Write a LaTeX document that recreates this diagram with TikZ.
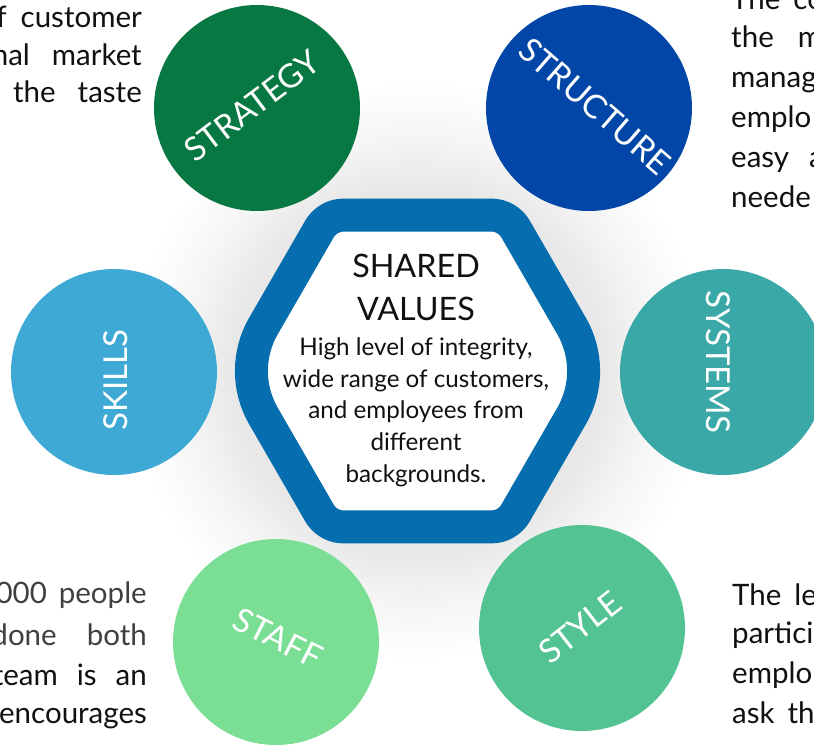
\documentclass[tikz,border=0pt]{standalone}
\usepackage{fontspec}
\setmainfont{Lato}
\usetikzlibrary{calc}
\definecolor{cStrategy}{RGB}{7,120,66}
\definecolor{cStructure}{RGB}{2,71,168}
\definecolor{cSkills}{RGB}{62,169,213}
\definecolor{cSystems}{RGB}{59,168,168}
\definecolor{cStaff}{RGB}{122,222,148}
\definecolor{cStyle}{RGB}{84,195,147}
\definecolor{ringblue}{RGB}{6,109,174}
\definecolor{textdark}{RGB}{17,17,17}
\definecolor{textgray}{RGB}{64,64,64}
\pgfdeclareradialshading{hexglow}{\pgfpoint{0bp}{0bp}}{color(0bp)=(black!10); color(16bp)=(black!9); color(20bp)=(black!4); color(25bp)=(white); color(50bp)=(white)}
\begin{document}
\begin{tikzpicture}[x=1pt,y=-1pt,
  disc/.style={circle, minimum size=206pt, inner sep=0pt, draw=none},
  clabel/.style={text=white, font=\fontsize{33}{38}\selectfont, inner sep=0pt},
  side/.style={font=\fontsize{29.5}{34}\selectfont, inner sep=0pt, text=textdark},
  sidegray/.style={side, text=textgray},
  titletext/.style={font=\fontsize{32.3}{38}\selectfont, inner sep=0pt, text=textdark},
  bodytext/.style={font=\fontsize{24.2}{28}\selectfont, inner sep=0pt, text=textdark}]
\clip (0,0) rectangle (814,745);
\fill[white] (0,0) rectangle (814,745);
\coordinate (C) at (417.5,371);
\shade[shading=hexglow] (C) circle (290);

% circles
\node[disc, fill=cStrategy]  (strategy)  at (257,108) {};
\node[disc, fill=cStructure] (structure) at (589,108) {};
\node[disc, fill=cSkills]    (skills)    at (114,372) {};
\node[disc, fill=cSystems]   (systems)   at (723,372) {};
\node[disc, fill=cStaff]     (staff)     at (276,642) {};
\node[disc, fill=cStyle]     (style)     at (582,628) {};

\node[clabel, rotate=37]  (lstrategy)  at (252,106) {STRATEGY};
\node[clabel, rotate=-41] (lstructure) at (595,106) {STRUCTURE};
\node[clabel, rotate=90]  (lskills)    at (116,380) {SKILLS};
\node[clabel, rotate=-90] (lsystems)   at (718,362) {SYSTEMS};
\node[clabel, rotate=-27] (lstaff)     at (278,638) {STAFF};
\node[clabel, rotate=38]  (lstyle)     at (580,627) {STYLE};

% central hexagon ring
\path[fill=white, draw=ringblue, line width=33pt, line join=round]
  ($(C)+(0:76.1)+(-30:90)$) arc[start angle=-30,end angle=30,radius=90]
  -- ($(C)+(60:147.7)+(30:28)$) arc[start angle=30,end angle=90,radius=28]
  -- ($(C)+(120:147.7)+(90:28)$) arc[start angle=90,end angle=150,radius=28]
  -- ($(C)+(180:76.1)+(150:90)$) arc[start angle=150,end angle=210,radius=90]
  -- ($(C)+(240:147.7)+(210:28)$) arc[start angle=210,end angle=270,radius=28]
  -- ($(C)+(300:147.7)+(270:28)$) arc[start angle=270,end angle=330,radius=28]
  -- cycle;

\node[titletext, anchor=base] (sv1) at (416,277) {SHARED};
\node[titletext, anchor=base] (sv2) at (416,320) {VALUES};
\node[bodytext, anchor=base] (b1) at (416,355) {High level of integrity,};
\node[bodytext, anchor=base] (b2) at (416,387) {wide range of customers,};
\node[bodytext, anchor=base] (b3) at (416,418) {and employees from};
\node[bodytext, anchor=base] (b4) at (416,450) {different};
\node[bodytext, anchor=base] (b5) at (416,482) {backgrounds.};

% top-left text
\node[side, anchor=base east] (tl1) at (142,27)  {f\hspace{14pt}customer};
\node[side, anchor=base east] (tl2) at (142,65)  {nal\hspace{22pt}market};
\node[side, anchor=base east] (tl3) at (142,102) {the\hspace{22pt}taste};

% top-right text
\node[side, anchor=base west] (tr1) at (731,9)   {The\hspace{13pt}co};
\node[side, anchor=base west] (tr2) at (731,47)  {the\hspace{24pt}m};
\node[side, anchor=base west] (tr3) at (731,87)  {manag};
\node[side, anchor=base west] (tr4) at (731,127) {emplo};
\node[side, anchor=base west] (tr5) at (731,167) {easy\hspace{20pt}a};
\node[side, anchor=base west] (tr6) at (731,207) {neede};

% bottom-left text
\node[sidegray, anchor=base east] (bl1) at (147,603) {000\hspace{12pt}people};
\node[sidegray, anchor=base east] (bl2) at (147,645) {done\hspace{30pt}both};
\node[side, anchor=base east] (bl3) at (147,685) {team\hspace{19pt}is\hspace{19pt}an};
\node[side, anchor=base east] (bl4) at (147,723) {encourages};

% bottom-right text
\node[side, anchor=base west] (br1) at (732,605) {The\hspace{13pt}le};
\node[side, anchor=base west] (br2) at (732,643) {partici};
\node[side, anchor=base west] (br3) at (732,683) {emplo};
\node[side, anchor=base west] (br4) at (732,723) {ask\hspace{13pt}th};
\end{tikzpicture}
\end{document}
